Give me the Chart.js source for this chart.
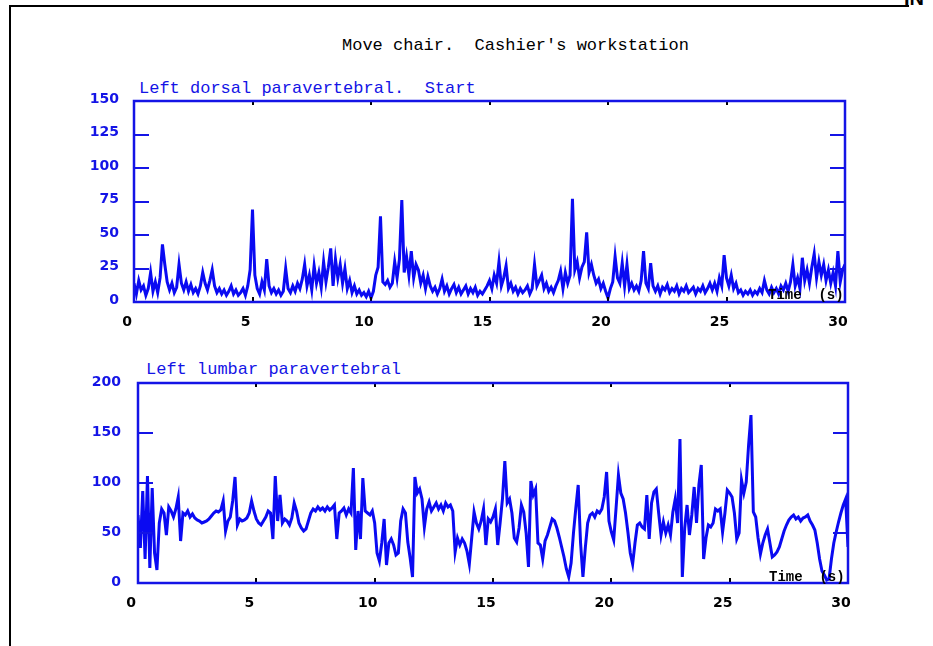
<!DOCTYPE html>
<html>
<head>
<meta charset="utf-8">
<script src="https://cdn.jsdelivr.net/npm/chart.js@4.4.0/dist/chart.umd.min.js"></script>
<style>
  html, body { margin: 0; padding: 0; background: #fff; }
  body { width: 933px; height: 646px; position: relative; overflow: hidden; }
  canvas { position: absolute; left: 0; top: 0; width: 933px; height: 646px; }
  .frame { position: absolute; left: 9px; top: 5px; width: 898px; height: 700px;
           border-top: 2px solid #000; border-left: 2px solid #000; }
  .corner { position: absolute; left: 904px; top: -12px; font: bold 20px "Liberation Sans", sans-serif;
            line-height: 1; color: #000; }
  .txt { position: absolute; white-space: pre; font-family: "Liberation Mono", monospace; line-height: 1; }
  #title { left: 342px; top: 37px; font-size: 17px; color: #000; }
  .sub { font-size: 17px; color: #1414e6; }
  .time { font-size: 14px; font-weight: bold; color: #000; z-index: 2; }
</style>
</head>
<body>
<div class="frame"></div>
<div class="corner">IN</div>
<div class="txt" id="title">Move chair.  Cashier's workstation</div>
<div class="txt sub" style="left:139px; top:80px;">Left dorsal paravertebral.  Start</div>
<div class="txt sub" style="left:146px; top:361px;">Left lumbar paravertebral</div>
<canvas id="dorsal" width="933" height="646"></canvas>
<canvas id="lumbar" width="933" height="646"></canvas>
<div class="txt time" style="left:768px; top:288px;">Time  (s)</div>
<div class="txt time" style="left:769px; top:570px;">Time  (s)</div>

<script>
// Sampling interval of the recorded EMG envelopes (seconds)
const SAMPLE_STEP = 0.1;
const X_TICKS = [0, 5, 10, 15, 20, 25, 30];
const DORSAL_TICKS = [0, 25, 50, 75, 100, 125, 150];
const LUMBAR_TICKS = [0, 50, 100, 150, 200];

// Left dorsal paravertebral, 0.0 s .. 30.0 s
const dorsal = [
  14, 6, 16, 9, 12, 5, 10, 22, 8, 15,
  7, 18, 43, 28, 15, 9, 14, 7, 11, 28,
  14, 9, 15, 8, 13, 7, 10, 6, 12, 22,
  14, 9, 16, 24, 12, 7, 10, 6, 9, 5,
  8, 12, 6, 9, 5, 7, 10, 5, 12, 24,
  69, 20, 10, 6, 15, 9, 32, 12, 7, 10,
  6, 9, 5, 8, 25, 10, 7, 12, 8, 14,
  10, 17, 28, 12, 20, 9, 27, 14, 22, 11,
  30, 15, 26, 40, 12, 32, 18, 28, 14, 25,
  10, 16, 7, 12, 6, 9, 5, 7, 4, 8,
  3, 8, 20, 26, 64, 15, 13, 16, 11, 14,
  30, 18, 32, 76, 22, 34, 20, 38, 18, 28,
  24, 14, 20, 10, 19, 12, 8, 11, 6, 10,
  17, 8, 12, 6, 10, 13, 7, 11, 6, 9,
  12, 6, 10, 7, 11, 5, 8, 6, 9, 12,
  16, 10, 20, 14, 30, 12, 18, 27, 10, 14,
  8, 11, 6, 10, 7, 9, 12, 6, 10, 28,
  12, 16, 20, 10, 14, 8, 11, 7, 12, 16,
  23, 10, 22, 14, 20, 77, 24, 30, 18, 26,
  30, 52, 22, 28, 20, 14, 17, 10, 14, 8,
  3, 10, 15, 34, 18, 14, 29, 12, 28, 10,
  14, 9, 12, 8, 16, 38, 14, 10, 29, 12,
  8, 12, 6, 11, 9, 13, 7, 10, 8, 12,
  6, 10, 8, 12, 7, 9, 11, 6, 10, 8,
  12, 7, 10, 14, 9, 14, 8, 18, 12, 35,
  18, 12, 20, 10, 14, 7, 9, 5, 8, 6,
  9, 5, 8, 6, 10, 7, 16, 9, 6, 11,
  7, 10, 6, 12, 9, 14, 8, 15, 28, 12,
  18, 10, 33, 16, 24, 14, 26, 36, 18, 30,
  20, 28, 16, 24, 14, 22, 12, 38, 15, 24,
  28
];

// Left lumbar paravertebral, 0.0 s .. 30.0 s
const lumbar = [
  68, 35, 92, 24, 107, 15, 95, 30, 13, 60,
  74, 70, 48, 76, 72, 66, 74, 86, 42, 70,
  68, 72, 66, 69, 65, 63, 62, 60, 61, 62,
  64, 67, 70, 72, 71, 73, 82, 52, 62, 66,
  82, 106, 58, 64, 62, 63, 65, 70, 82, 72,
  64, 60, 58, 62, 66, 72, 70, 44, 107, 62,
  88, 60, 64, 62, 58, 65, 80, 72, 60, 55,
  52, 54, 62, 70, 74, 72, 76, 73, 75, 72,
  76, 73, 75, 78, 44, 70, 72, 75, 68, 74,
  70, 115, 33, 72, 44, 105, 72, 70, 68, 72,
  60, 30, 22, 40, 64, 18, 40, 44, 38, 28,
  30, 62, 74, 70, 41, 25, 6, 106, 90, 94,
  84, 56, 74, 81, 72, 76, 80, 74, 78, 72,
  80, 76, 78, 72, 31, 45, 38, 44, 40, 32,
  19, 45, 71, 60, 54, 62, 74, 38, 64, 61,
  66, 74, 38, 60, 84, 122, 80, 84, 70, 45,
  41, 55, 78, 71, 50, 16, 102, 88, 94, 40,
  38, 24, 42, 48, 56, 64, 62, 55, 46, 36,
  26, 14, 6, 20, 50, 75, 98, 40, 6, 35,
  60, 68, 70, 66, 72, 70, 74, 86, 111, 62,
  51, 43, 75, 108, 90, 84, 70, 51, 30, 19,
  40, 58, 60, 56, 54, 88, 44, 80, 91, 94,
  70, 48, 61, 50, 58, 48, 71, 84, 60, 144,
  6, 55, 78, 48, 68, 96, 60, 98, 118, 24,
  45, 58, 56, 60, 74, 72, 74, 51, 70, 93,
  90, 86, 70, 44, 50, 103, 90, 101, 138, 168,
  71, 66, 45, 29, 40, 48, 54, 40, 26, 28,
  31, 36, 44, 52, 58, 63, 66, 68, 64, 66,
  62, 65, 66, 68, 62, 58, 53, 40, 24, 12,
  8, 3, 4, 24, 40, 51, 61, 70, 78, 84,
  36
];

const TRACE_BLUE = '#0a0af2';
const LABEL_BLUE = '#1414e6';

// Box around the plot area plus inward tick marks on all four sides
const boxTicks = {
  id: 'boxTicks',
  afterDatasetsDraw(chart, args, opts) {
    const { ctx, chartArea: a, scales: { x, y } } = chart;
    ctx.save();
    ctx.lineCap = 'butt';
    ctx.strokeStyle = LABEL_BLUE;
    ctx.lineWidth = 2;
    y.ticks.forEach(t => {
      if (t.value <= y.min || t.value >= y.max) return;
      const py = Math.round(y.getPixelForValue(t.value));
      ctx.beginPath();
      ctx.moveTo(a.left, py); ctx.lineTo(a.left + opts.len, py);
      ctx.moveTo(a.right, py); ctx.lineTo(a.right - opts.len, py);
      ctx.stroke();
    });
    ctx.strokeStyle = '#000';
    x.ticks.forEach(t => {
      if (t.value <= x.min || t.value >= x.max) return;
      const px = Math.round(x.getPixelForValue(t.value));
      ctx.beginPath();
      ctx.moveTo(px, a.top); ctx.lineTo(px, a.top + 4);
      ctx.moveTo(px, a.bottom); ctx.lineTo(px, a.bottom - 5);
      ctx.stroke();
    });
    ctx.strokeStyle = LABEL_BLUE;
    ctx.lineWidth = 2.5;
    ctx.strokeRect(a.left, a.top, a.right - a.left, a.bottom - a.top);
    ctx.restore();
  }
};

function drawTrace(canvasId, values, yTicks, g) {
  const points = values.map((v, i) => ({ x: +(i * SAMPLE_STEP).toFixed(1), y: v }));
  const yMax = yTicks[yTicks.length - 1];
  return new Chart(document.getElementById(canvasId), {
    type: 'line',
    data: {
      datasets: [{
        data: points,
        borderColor: TRACE_BLUE,
        borderWidth: 3,
        pointRadius: 0,
        tension: 0,
        fill: false
      }]
    },
    options: {
      responsive: false,
      animation: false,
      devicePixelRatio: 1,
      layout: { padding: g.padding },
      plugins: {
        legend: { display: false },
        tooltip: { enabled: false },
        boxTicks: { len: 15 }
      },
      scales: {
        x: {
          type: 'linear',
          min: X_TICKS[0],
          max: X_TICKS[X_TICKS.length - 1],
          border: { display: false },
          grid: { display: false },
          afterFit(s) { s.height = 30; },
          afterBuildTicks(s) { s.ticks = X_TICKS.map(v => ({ value: v })); },
          ticks: {
            color: '#000',
            font: { family: 'DejaVu Sans', weight: 'bold', size: 14 },
            padding: 4,
            labelOffset: -7,
            maxRotation: 0,
            autoSkip: false
          }
        },
        y: {
          min: yTicks[0],
          max: yMax,
          border: { display: false },
          grid: { display: false },
          afterFit(s) { s.width = 80; },
          afterBuildTicks(s) { s.ticks = yTicks.map(v => ({ value: v })); },
          ticks: {
            color: LABEL_BLUE,
            font: { family: 'DejaVu Sans', weight: 'bold', size: 14 },
            padding: g.ypad,
            labelOffset: g.yoff,
            autoSkip: false
          }
        }
      }
    },
    plugins: [boxTicks]
  });
}

// Upper panel: plot area 134..845 x 101..302
drawTrace('dorsal', dorsal, DORSAL_TICKS, {
  padding: { left: 54, right: 88, top: 101, bottom: 314 },
  ypad: 7, yoff: -2
});

// Lower panel: plot area 138..848 x 383..583
drawTrace('lumbar', lumbar, LUMBAR_TICKS, {
  padding: { left: 58, right: 85, top: 383, bottom: 33 },
  ypad: 9, yoff: -1
});
</script>
</body>
</html>
